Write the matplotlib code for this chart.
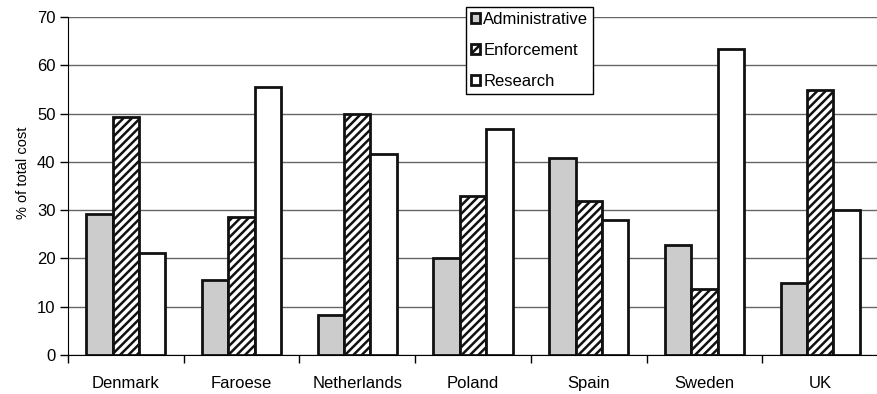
import numpy as np
import matplotlib
matplotlib.use("Agg")
import matplotlib.pyplot as plt

plt.rcParams['font.family'] = ['Liberation Sans', 'DejaVu Sans']
plt.rcParams['hatch.linewidth'] = 1.8

countries = ['Denmark', 'Faroese', 'Netherlands', 'Poland', 'Spain', 'Sweden', 'UK']
administrative = [29.1, 15.6, 8.2, 20.1, 40.9, 22.7, 15.0]
enforcement = [49.2, 28.6, 49.9, 33.0, 31.8, 13.6, 54.9]
research = [21.2, 55.5, 41.6, 46.8, 28.0, 63.4, 30.1]

fig = plt.figure(figsize=(8.78, 3.94), dpi=100)
ax = fig.add_axes([68 / 878, 39 / 394, 810 / 878, 338 / 394])

x = np.arange(len(countries))
w = 0.228
ax.bar(x - w, administrative, w, color='#cccccc', edgecolor='#111111', linewidth=2,
       label='Administrative', zorder=3)
ax.bar(x, enforcement, w, color='white', edgecolor='#111111', hatch='////', linewidth=2,
       label='Enforcement', zorder=3)
ax.bar(x + w, research, w, color='white', edgecolor='#111111', linewidth=2,
       label='Research', zorder=3)

ax.set_xlim(-0.5, 6.5)
ax.set_ylim(0, 70)
ax.set_yticks(range(0, 71, 10))
ax.yaxis.grid(True, color='#666666', linewidth=1)
ax.set_axisbelow(True)

# boundaries get the tick marks, centres get the names
ax.set_xticks(np.arange(-0.5, 7, 1))
ax.set_xticklabels([])
ax.set_xticks(x, minor=True)
ax.set_xticklabels(countries, minor=True)
ax.tick_params(axis='x', which='minor', length=0, pad=15, labelsize=12)
ax.tick_params(axis='x', which='major', length=6, width=1, direction='out')
ax.tick_params(axis='y', length=6, width=1, direction='out', labelsize=12, pad=3)

for s in ['top', 'right']:
    ax.spines[s].set_visible(False)
ax.spines['left'].set_color('black')
ax.spines['bottom'].set_color('black')

ax.set_ylabel('% of total cost', fontsize=10.5)
ax.yaxis.set_label_coords(-0.047, 0.54)

leg = ax.legend(loc='upper left', bbox_to_anchor=(0.491, 1.03), fontsize=12,
                fancybox=False, framealpha=1, edgecolor='black',
                handlelength=0.55, handleheight=0.55, handletextpad=0.2,
                labelspacing=0.95, borderpad=0.3, borderaxespad=0)
leg.get_frame().set_linewidth(1)
leg.set_zorder(5)

fig.savefig('out.png', dpi=100)
